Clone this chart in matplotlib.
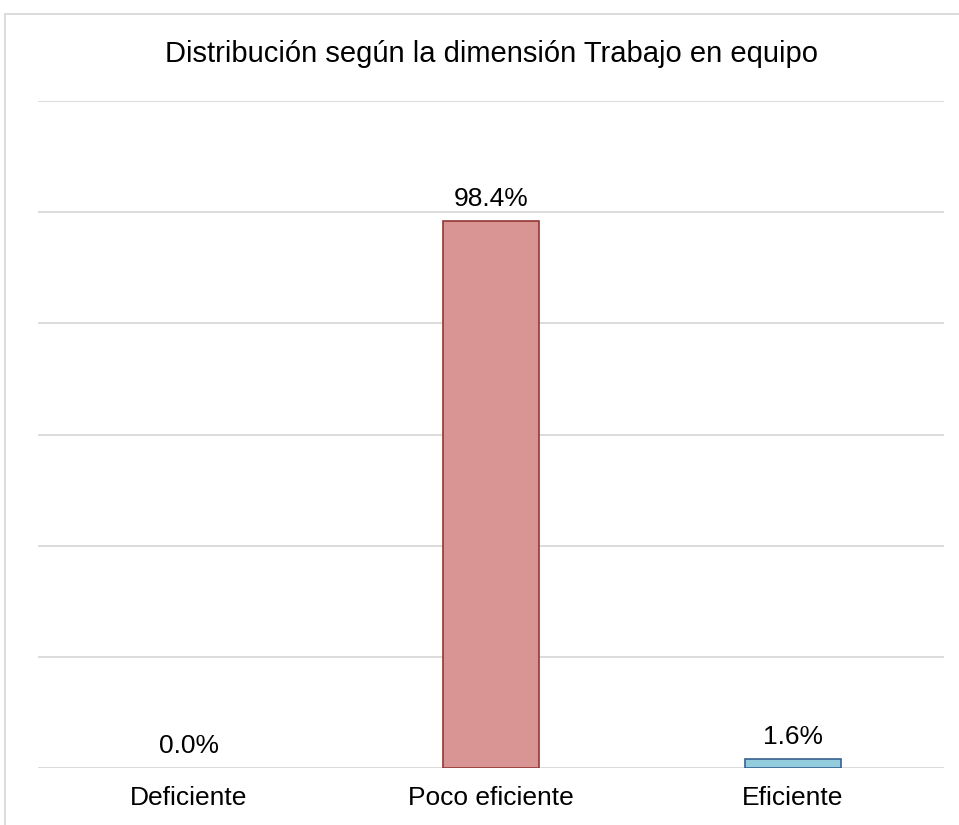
import numpy as np
import matplotlib.pyplot as plt
from matplotlib.lines import Line2D

plt.rcParams['font.family'] = ['Liberation Sans', 'DejaVu Sans']

categorias = ['Deficiente', 'Poco eficiente', 'Eficiente']
porcentajes = [0.0, 98.4, 1.6]
colores = ['#D99594', '#D99594', '#93CDDD']
bordes = ['#953735', '#953735', '#376092']

fig = plt.figure(figsize=(9.59, 8.25), dpi=100)
ax = fig.add_axes([38/959, 1-768/825, (944-38)/959, (768-101)/825])

x = np.arange(len(categorias))
anchos_borde = [1.2 if v > 0 else 0 for v in porcentajes]
barras = ax.bar(x, porcentajes, width=0.32, color=colores, edgecolor=bordes,
                linewidth=anchos_borde, zorder=3)

for b, v in zip(barras, porcentajes):
    ax.annotate(f'{v:.1f}%', (b.get_x() + b.get_width()/2, b.get_height()),
                xytext=(0, 7), textcoords='offset points', ha='center', va='bottom',
                fontsize=19, color='#000000')

ax.set_xlim(-0.5, 2.5)
ax.set_ylim(0, 120)
ax.set_yticks(np.arange(0, 121, 20))
ax.set_yticklabels([])
ax.set_xticks(x)
ax.set_xticklabels(categorias, fontsize=19)
ax.tick_params(axis='both', length=0)
ax.tick_params(axis='x', pad=13)
ax.grid(axis='y', color='#D9D9D9', linewidth=1.3, zorder=0)
for s in ax.spines.values():
    s.set_visible(False)

fig.text(0.5 * (38 + 944) / 959, 1 - 62/825, 'Distribución según la dimensión Trabajo en equipo',
         ha='center', va='baseline', fontsize=21)

# borde del área del gráfico
fig.add_artist(Line2D([5/959, 5/959], [0, 1 - 14/825], color='#D9D9D9', linewidth=1.3))
fig.add_artist(Line2D([5/959, 1], [1 - 14/825, 1 - 14/825], color='#D9D9D9', linewidth=1.3))

fig.savefig('out.png', dpi=100)
